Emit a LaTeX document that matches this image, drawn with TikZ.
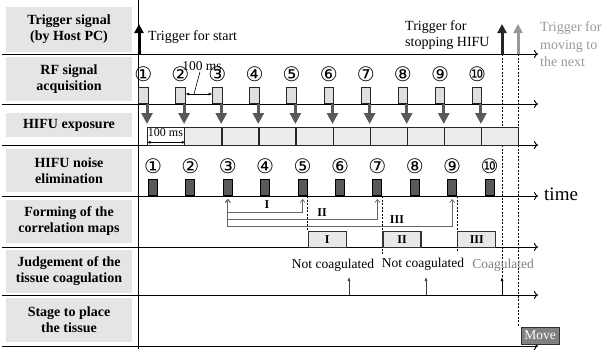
\documentclass[tikz,border=0pt]{standalone}
\usepackage{fontspec}
\setmainfont{Liberation Serif}
\newfontfamily\circfont{DejaVu Sans}
\usetikzlibrary{arrows.meta}
\usetikzlibrary{positioning, calc}

\begin{document}
\begin{tikzpicture}[x=1pt,y=-1pt]
  \tikzstyle{rowlabel}=[fill=gray!20,minimum width=126pt,inner sep=0pt,align=center,font=\bfseries\fontsize{14}{16}\selectfont]
  \tikzstyle{axis}=[line width=0.9pt,-{To[length=4pt,width=8pt]}]
  \tikzstyle{rfbox}=[draw=black!85,line width=1pt,fill=gray!25,minimum width=9.5pt,minimum height=16pt,inner sep=0pt,anchor=south west]
  \tikzstyle{nzbox}=[draw=black,line width=1pt,fill=black!65,minimum width=9pt,minimum height=16pt,inner sep=0pt,anchor=south west]
  \tikzstyle{segbox}=[draw=black!85,line width=1.3pt,fill=gray!15,minimum width=37.1pt,minimum height=18pt,inner sep=0pt,anchor=north west]
  \tikzstyle{mapbox}=[draw=black!80,line width=1.2pt,fill=gray!18,minimum width=38pt,minimum height=16pt,inner sep=0pt,anchor=north west,font=\bfseries\fontsize{12}{12}\selectfont]
  \tikzstyle{num}=[font=\circfont\fontsize{20}{20}\selectfont,inner sep=0pt,text height=9.5pt,text depth=1pt]
  \tikzstyle{txt}=[font=\fontsize{14}{16}\selectfont,inner sep=0pt]
  \tikzstyle{small}=[font=\fontsize{13.5}{15}\selectfont,inner sep=0pt]
  \tikzstyle{trig}=[line width=3pt,-{Triangle[length=9pt,width=9pt]}]
  \tikzstyle{feed}=[line width=3pt,draw=black!65,-{Triangle[length=11pt,width=11pt]}]
  \tikzstyle{vline}=[line width=0.6pt,dash pattern=on 2pt off 1.5pt]
  \tikzstyle{pick}=[line width=0.7pt,draw=black!60,{Straight Barb[length=3pt,width=5pt]}-{Straight Barb[length=3pt,width=5pt]}]
  \tikzstyle{judge}=[line width=0.6pt,-{Latex[length=4pt,width=3pt]}]
  \tikzstyle{gap}=[line width=0.6pt,{Latex[length=3.5pt,width=3pt]}-{Latex[length=3.5pt,width=3pt]}]
  \colorlet{nextcol}{black!40}

  \useasboundingbox (0,0) rectangle (606,349);

  % ROW LABELS
  \node[rowlabel,minimum height=45pt] (lab1) at (69,29.5) {Trigger signal\\(by Host PC)};
  \node[rowlabel,minimum height=44pt] (lab2) at (69,79) {RF signal\\acquisition};
  \node[rowlabel,minimum height=24pt] (lab3) at (69,125) {HIFU exposure};
  \node[rowlabel,minimum height=43pt] (lab4) at (69,170.5) {HIFU noise\\elimination};
  \node[rowlabel,minimum height=43pt] (lab5) at (69,221.5) {Forming of the\\correlation maps};
  \node[rowlabel,minimum height=43pt] (lab6) at (69,271.5) {Judgement of the\\tissue coagulation};
  \node[rowlabel,minimum height=44pt] (lab7) at (69,320) {Stage to place\\the tissue};

  % AXES
  \foreach \y in {54,104,145,196,247,295,346}{
      \draw[axis] (2,\y) -- (538,\y);
    }
  \draw[line width=1pt] (138,0) -- (138,349);
  \node[font=\fontsize{19}{19}\selectfont,anchor=west,inner sep=0pt] (time) at (544,194) {time};

  % TRIGGERS
  \coordinate (tstart) at (139,54);
  \coordinate (tstop) at (502,54);
  \coordinate (tnext) at (518,54);
  \draw[trig] (tstart) -- ++(0,-30);
  \draw[vline] (tstop) -- (502,277);
  \draw[vline] (tnext) -- (518,327);
  \draw[trig,draw=black!85] (tstop) -- ++(0,-30);
  \draw[trig,draw=nextcol] (tnext) -- ++(0,-30);
  \node[txt,anchor=west] (start) at (148,37) {Trigger for start};
  \node[txt,anchor=west,align=left] (stop) at (405,35.5) {Trigger for\\stopping HIFU};
  \node[txt,anchor=west,align=left,text=nextcol,font=\fontsize{14}{17.5}\selectfont] (next) at (540,44.5) {Trigger for\\moving to\\the next};

  % RF ACQUISITION AND HIFU EXPOSURE
  \node[segbox,fill=white] (seg1) at (147,127) {};
  \foreach \i [evaluate={\x=147+37.1*(\i-1);}] in {2,...,10}{
      \node[segbox] (seg\i) at (\x,127) {};
    }
  \foreach \i/\c [evaluate={\x=138+37.1*(\i-1);}] in {1/①,2/②,3/③,4/④,5/⑤,6/⑥,7/⑦,8/⑧,9/⑨,10/⑩}{
      \node[rfbox] (rf\i) at (\x,104) {};
      \node[num] at ([yshift=10pt]rf\i.north) {\c};
      \draw[feed] ([xshift=-1.5pt]rf\i.south east) -- ++(0,20);
    }
  \node[font=\fontsize{12}{12}\selectfont,inner sep=0pt] (seglen) at (165.5,133) {100 ms};
  \draw[gap] ([yshift=4pt]seg1.south west) -- ([yshift=4pt]seg1.south east);
  \node[small] (rfgap) at (202,66) {100 ms};
  \draw[line width=0.6pt] ([xshift=-2pt,yshift=-1pt]rfgap.south) -- (194,94);
  \draw[gap] ([yshift=10pt]rf2.south east) -- ([yshift=10pt]rf3.south west);

  % NOISE ELIMINATION
  \foreach \i/\c [evaluate={\x=148+37.4*(\i-1);}] in {1/①,2/②,3/③,4/④,5/⑤,6/⑥,7/⑦,8/⑧,9/⑨,10/⑩}{
      \node[nzbox] (nz\i) at (\x,196) {};
      \node[num] at ([yshift=10pt]nz\i.north) {\c};
    }

  % CORRELATION MAPS
  \coordinate (b3) at ([yshift=-3pt]nz3.south);
  \coordinate (b5) at ([yshift=-3pt]nz5.south);
  \coordinate (b7) at ([yshift=-3pt]nz7.south);
  \coordinate (b9) at ([yshift=-3pt]nz9.south);
  \draw[pick] (b3) -- ++(0,27) -| (b9);
  \draw[pick] (b3) -- ++(0,20) -| (b7);
  \draw[pick] (b3) -- ++(0,13) -| (b5);
  \node[font=\bfseries\fontsize{12}{12}\selectfont] at (267,205) {I};
  \node[font=\bfseries\fontsize{12}{12}\selectfont] at (322,213) {II};
  \node[font=\bfseries\fontsize{12}{12}\selectfont] at (397,220) {III};
  \draw[vline] (nz5.south east) -- ++(0,35);
  \draw[vline] (nz7.south east) -- ++(0,58);
  \draw[vline] (nz9.south east) -- ++(0,56);
  \node[mapbox] (map1) at ($(nz5.south east)+(0,35)$) {I};
  \node[mapbox] (map2) at ($(nz7.south east)+(0,35)$) {II};
  \node[mapbox] (map3) at ($(nz9.south east)+(0,35)$) {III};

  % JUDGEMENT
  \node[small] (nc1) at (333,265) {Not coagulated};
  \node[small] (nc2) at (423,264) {Not coagulated};
  \node[small,text=black!50] (coag) at (503,265) {Coagulated};
  \draw[judge,draw=black!75] (349,295) -- (349,277);
  \draw[judge,draw=black!75] (426,295) -- (426,277);
  \draw[judge] (502,295) -- (502,277);

  % STAGE
  \node[draw=black!80,line width=1pt,fill=black!50,text=white,minimum width=38pt,minimum height=17pt,inner sep=0pt,font=\fontsize{13.5}{13.5}\selectfont] (move) at (540,335.5) {Move};
\end{tikzpicture}
\end{document}
